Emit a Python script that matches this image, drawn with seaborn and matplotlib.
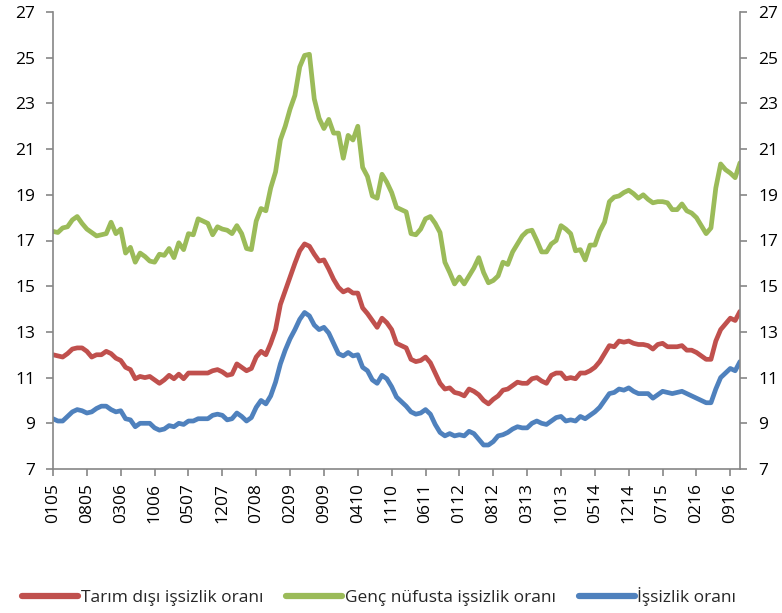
import numpy as np
import pandas as pd
import matplotlib
matplotlib.use("Agg")
import matplotlib.pyplot as plt
import seaborn as sns

# ── Veriler (aylık, 01/2005 - 11/2016) ─────────────────────
donem = pd.period_range("2005-01", "2016-11", freq="M").strftime("%m%y")

tarim_disi = [
    12.0, 11.95, 11.9, 12.05, 12.25, 12.3, 12.3, 12.15, 11.9, 12.0,
    12.0, 12.15, 12.05, 11.85, 11.75, 11.45, 11.35, 10.95, 11.05, 11.0,
    11.05, 10.9, 10.75, 10.9, 11.1, 10.95, 11.15, 10.95, 11.2, 11.2,
    11.2, 11.2, 11.2, 11.3, 11.35, 11.25, 11.1, 11.15, 11.6, 11.45,
    11.3, 11.4, 11.9, 12.15, 12.0, 12.5, 13.1, 14.2, 14.8, 15.4,
    16.0, 16.55, 16.85, 16.75, 16.4, 16.1, 16.15, 15.75, 15.3, 14.95,
    14.75, 14.85, 14.7, 14.7, 14.05, 13.8, 13.5, 13.2, 13.6, 13.4,
    13.1, 12.5, 12.4, 12.3, 11.8, 11.7, 11.75, 11.9, 11.65, 11.2,
    10.75, 10.5, 10.55, 10.35, 10.3, 10.2, 10.5, 10.4, 10.25, 10.0,
    9.85, 10.05, 10.2, 10.45, 10.5, 10.65, 10.8, 10.75, 10.75, 10.95,
    11.0, 10.85, 10.75, 11.1, 11.2, 11.2, 10.95, 11.0, 10.95, 11.2,
    11.2, 11.3, 11.45, 11.7, 12.05, 12.4, 12.35, 12.6, 12.55, 12.6,
    12.5, 12.45, 12.45, 12.4, 12.25, 12.45, 12.5, 12.35, 12.35, 12.35,
    12.4, 12.2, 12.2, 12.1, 11.95, 11.8, 11.8, 12.6, 13.1, 13.35,
    13.6, 13.5, 13.9,
]

genc = [
    17.4, 17.35, 17.55, 17.6, 17.9, 18.05, 17.75, 17.5, 17.35, 17.2,
    17.25, 17.3, 17.8, 17.3, 17.5, 16.45, 16.7, 16.05, 16.45, 16.3,
    16.1, 16.05, 16.4, 16.35, 16.65, 16.25, 16.9, 16.6, 17.3, 17.25,
    17.95, 17.85, 17.75, 17.25, 17.6, 17.5, 17.45, 17.3, 17.65, 17.3,
    16.65, 16.6, 17.85, 18.4, 18.3, 19.3, 20.0, 21.4, 22.0, 22.75,
    23.35, 24.6, 25.1, 25.15, 23.2, 22.35, 21.9, 22.3, 21.7, 21.7,
    20.6, 21.6, 21.4, 22.0, 20.2, 19.8, 18.95, 18.85, 19.9, 19.55,
    19.1, 18.45, 18.35, 18.25, 17.3, 17.25, 17.5, 17.95, 18.05, 17.75,
    17.35, 16.05, 15.6, 15.1, 15.4, 15.1, 15.45, 15.8, 16.25, 15.6,
    15.15, 15.25, 15.45, 16.05, 15.95, 16.5, 16.85, 17.2, 17.4, 17.45,
    17.0, 16.5, 16.5, 16.85, 17.0, 17.65, 17.5, 17.3, 16.55, 16.6,
    16.15, 16.8, 16.8, 17.4, 17.8, 18.7, 18.9, 18.95, 19.1, 19.2,
    19.05, 18.85, 19.0, 18.8, 18.65, 18.7, 18.7, 18.65, 18.35, 18.35,
    18.6, 18.3, 18.2, 18.0, 17.65, 17.3, 17.55, 19.3, 20.35, 20.1,
    19.95, 19.75, 20.4,
]

issizlik = [
    9.2, 9.1, 9.1, 9.3, 9.5, 9.6, 9.55, 9.45, 9.5, 9.65,
    9.75, 9.75, 9.6, 9.5, 9.55, 9.2, 9.15, 8.85, 9.0, 9.0,
    9.0, 8.8, 8.7, 8.75, 8.9, 8.85, 9.0, 8.95, 9.1, 9.1,
    9.2, 9.2, 9.2, 9.35, 9.4, 9.35, 9.15, 9.2, 9.45, 9.3,
    9.1, 9.25, 9.7, 10.0, 9.85, 10.2, 10.8, 11.6, 12.2, 12.7,
    13.1, 13.55, 13.85, 13.7, 13.3, 13.1, 13.2, 12.95, 12.5, 12.05,
    11.95, 12.1, 11.95, 12.0, 11.45, 11.3, 10.9, 10.75, 11.1, 10.95,
    10.6, 10.15, 9.95, 9.75, 9.5, 9.4, 9.45, 9.6, 9.4, 8.95,
    8.6, 8.45, 8.55, 8.45, 8.5, 8.45, 8.65, 8.55, 8.3, 8.05,
    8.05, 8.2, 8.45, 8.5, 8.6, 8.75, 8.85, 8.8, 8.8, 9.0,
    9.1, 9.0, 8.95, 9.1, 9.25, 9.3, 9.1, 9.15, 9.1, 9.3,
    9.2, 9.35, 9.5, 9.7, 10.0, 10.3, 10.35, 10.5, 10.45, 10.55,
    10.4, 10.3, 10.3, 10.3, 10.1, 10.25, 10.4, 10.35, 10.3, 10.35,
    10.4, 10.3, 10.2, 10.1, 10.0, 9.9, 9.9, 10.5, 11.0, 11.2,
    11.4, 11.3, 11.7,
]

seri_adlari = ["Tarım dışı işsizlik oranı", "Genç nüfusta işsizlik oranı", "İşsizlik oranı"]
renkler = ["#C0504D", "#9BBB59", "#4F81BD"]

n = len(donem)
df = pd.DataFrame({
    "x": np.tile(np.arange(n), 3),
    "oran": tarim_disi + genc + issizlik,
    "seri": np.repeat(seri_adlari, n),
})

# ── Stil ───────────────────────────────────────────────────
sns.set_style("ticks")
plt.rcParams["font.family"] = ["Open Sans", "DejaVu Sans"]
FS = 12.5
GRI = "#868686"

fig = plt.figure(figsize=(7.82, 6.13), dpi=100)
ax = fig.add_axes([53 / 782, 1 - 469 / 613, (740 - 53) / 782, (469 - 12) / 613])

sns.lineplot(data=df, x="x", y="oran", hue="seri", hue_order=seri_adlari,
             palette=renkler, linewidth=3.4, ax=ax, legend=True)

ax.set_xlim(0, n - 1)
ax.set_ylim(7, 27)
ax.set_yticks(np.arange(7, 28, 2))
ax.set_xticks(np.arange(0, n, 7))
ax.set_xticklabels(donem[::7], rotation=90)
ax.set_xlabel("")
ax.set_ylabel("")

for s in ["left", "right", "bottom"]:
    ax.spines[s].set_visible(True)
    ax.spines[s].set_color(GRI)
    ax.spines[s].set_linewidth(1.2)
ax.spines["top"].set_visible(False)
ax.tick_params(axis="both", color=GRI, length=5, width=1.2, labelsize=FS,
               labelcolor="black", direction="out")
ax.tick_params(axis="y", right=True, labelright=True, pad=8)
ax.tick_params(axis="x", pad=5)

handles, labels = ax.get_legend_handles_labels()
ax.get_legend().remove()
for h in handles:
    h.set_linewidth(4.5)
    h.set_solid_capstyle("round")
fig.legend(handles, labels, loc="lower center", bbox_to_anchor=(0.485, -0.014),
           ncol=3, frameon=False, fontsize=FS, handlelength=3.2,
           handletextpad=0.15, columnspacing=1.35)

fig.savefig("out.png", dpi=100)
